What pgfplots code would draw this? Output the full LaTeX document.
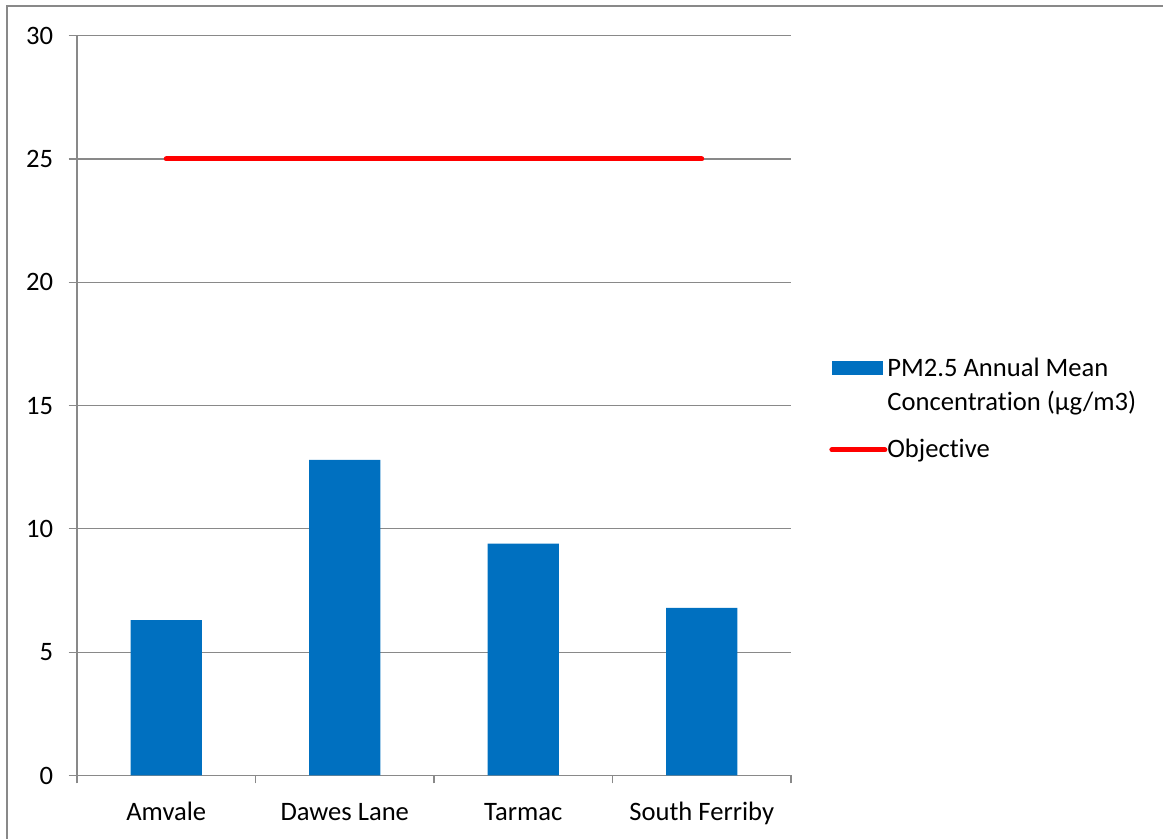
\documentclass[border=0pt]{standalone}
\usepackage{fontspec}
\setmainfont{Carlito}[Ligatures=CommonOff]
\usepackage{pgfplots}
\pgfplotsset{compat=1.18}
\definecolor{barblue}{HTML}{0070C0}
\definecolor{axisgray}{HTML}{898989}
\definecolor{objred}{HTML}{FF0000}
\newcommand{\chartfont}{\fontsize{13.3}{17}\selectfont}

\begin{document}
\begin{tikzpicture}
\useasboundingbox (0,0) rectangle (581.5pt,419.5pt);
% chart area frame (left and top edges)
\draw[axisgray, line width=0.6pt] (3.5pt,0pt) -- (3.5pt,416.5pt) -- (581.5pt,416.5pt);
\begin{axis}[
  at={(38.5pt,31.75pt)}, anchor=south west,
  width=357pt, height=369.9pt, scale only axis,
  xmin=-0.5, xmax=3.5, ymin=0, ymax=30,
  axis x line*=bottom, axis y line*=left,
  axis line style={axisgray, line width=0.6pt, -},
  ytick={0,5,...,30},
  ymajorgrids, grid style={axisgray, line width=0.6pt},
  xtick={0,1,2,3},
  xticklabels={Amvale, Dawes Lane, Tarmac, South Ferriby},
  minor xtick={-0.5,0.5,1.5,2.5,3.5},
  major x tick style={draw=none},
  tick align=outside,
  major tick length=4.25pt, minor tick length=4pt,
  tick style={axisgray, line width=0.6pt},
  /pgf/number format/assume math mode=true,
  tick label style={font=\chartfont, text=black},
  yticklabel style={anchor=east, inner sep=0pt, xshift=-7.5pt},
  xticklabel style={anchor=base, inner sep=0pt, yshift=-18.4pt},
  legend style={at={(axis description cs:1.0532,0.5652)}, anchor=north west,
    draw=none, fill=none, inner sep=0pt, font=\chartfont,
    nodes={align=left, inner sep=0pt}, row sep=13pt, column sep=0pt},
  legend cell align=left,
]
\addplot[ybar, bar width=35.7pt, fill=barblue, draw=none,
  legend image code/.code={\fill[barblue] (0pt,5pt) rectangle (25.5pt,12pt);}]
  coordinates {(0,6.3) (1,12.8) (2,9.4) (3,6.8)};
\addlegendentry{PM2.5 Annual Mean\\Concentration (µg/m3)}
\addplot[objred, line width=2.5pt, line cap=round,
  legend image code/.code={\draw[objred, line width=2.5pt] (0pt,0pt) -- (26.5pt,0pt);}]
  coordinates {(0,25) (3,25)};
\addlegendentry{Objective}
\end{axis}
\end{tikzpicture}
\end{document}
